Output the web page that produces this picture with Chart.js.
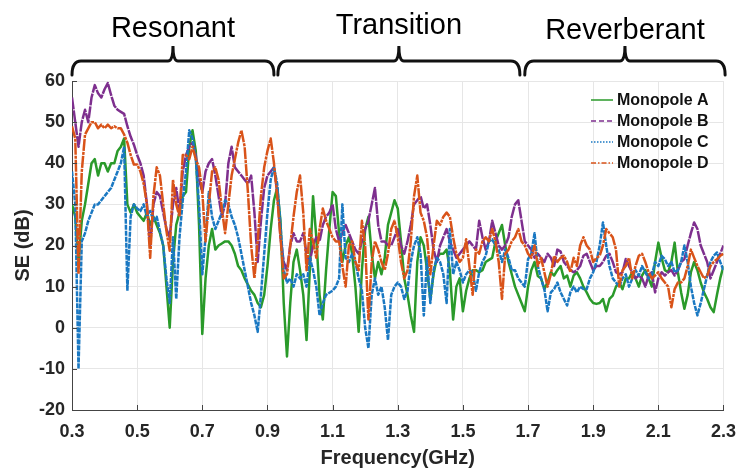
<!DOCTYPE html>
<html>
<head>
<meta charset="utf-8">
<script src="https://cdn.jsdelivr.net/npm/chart.js@4.4.1/dist/chart.umd.min.js"></script>
<style>
  html, body { margin: 0; padding: 0; background: #fff; }
  #wrap { width: 747px; height: 468px; position: relative; }
</style>
</head>
<body>
<div id="wrap"><canvas id="seChart"></canvas></div>
<script>
// frequency grid (GHz)
const freqGHz = [
  0.30, 0.31, 0.32, 0.33, 0.34, 0.35, 0.36, 0.37, 0.38, 0.39,
  0.40, 0.41, 0.42, 0.43, 0.44, 0.45, 0.46, 0.47, 0.48, 0.49,
  0.50, 0.51, 0.52, 0.53, 0.54, 0.55, 0.56, 0.57, 0.58, 0.59,
  0.60, 0.61, 0.62, 0.63, 0.64, 0.65, 0.66, 0.67, 0.68, 0.69,
  0.70, 0.71, 0.72, 0.73, 0.74, 0.75, 0.76, 0.77, 0.78, 0.79,
  0.80, 0.81, 0.82, 0.83, 0.84, 0.85, 0.86, 0.87, 0.88, 0.89,
  0.90, 0.91, 0.92, 0.93, 0.94, 0.95, 0.96, 0.97, 0.98, 0.99,
  1.00, 1.01, 1.02, 1.03, 1.04, 1.05, 1.06, 1.07, 1.08, 1.09,
  1.10, 1.11, 1.12, 1.13, 1.14, 1.15, 1.16, 1.17, 1.18, 1.19,
  1.20, 1.21, 1.22, 1.23, 1.24, 1.25, 1.26, 1.27, 1.28, 1.29,
  1.30, 1.31, 1.32, 1.33, 1.34, 1.35, 1.36, 1.37, 1.38, 1.39,
  1.40, 1.41, 1.42, 1.43, 1.44, 1.45, 1.46, 1.47, 1.48, 1.49,
  1.50, 1.51, 1.52, 1.53, 1.54, 1.55, 1.56, 1.57, 1.58, 1.59,
  1.60, 1.61, 1.62, 1.63, 1.64, 1.65, 1.66, 1.67, 1.68, 1.69,
  1.70, 1.71, 1.72, 1.73, 1.74, 1.75, 1.76, 1.77, 1.78, 1.79,
  1.80, 1.81, 1.82, 1.83, 1.84, 1.85, 1.86, 1.87, 1.88, 1.89,
  1.90, 1.91, 1.92, 1.93, 1.94, 1.95, 1.96, 1.97, 1.98, 1.99,
  2.00, 2.01, 2.02, 2.03, 2.04, 2.05, 2.06, 2.07, 2.08, 2.09,
  2.10, 2.11, 2.12, 2.13, 2.14, 2.15, 2.16, 2.17, 2.18, 2.19,
  2.20, 2.21, 2.22, 2.23, 2.24, 2.25, 2.26, 2.27, 2.28, 2.29, 2.30
];

// shielding effectiveness (dB)
const seMonopoleA = [
  30, 27, 16, 26, 30, 35, 40, 41, 37, 40,
  40, 38, 40, 40, 43, 44, 46, 30, 28, 30,
  28, 27, 26, 28, 25, 27, 25, 23, 20, 10,
  0, 16, 25, 28, 32, 33, 44, 48, 43, 25,
  -1.5, 12, 20, 24, 19, 20, 20.5, 21, 21, 20,
  18, 15, 14, 12, 10.5, 9, 8, 6, 5, 8,
  15, 24, 31, 34, 26, 6, -7, 6, 16, 19,
  14, 8, -3, 14, 32, 22, 8, 2, 14, 24,
  33, 32, 23, 16, 20, 22, 18, 10, -1, 14,
  24, 27, 18, 12, 16, 13, 17, 25, 28, 31,
  29, 21, 12, 8, 3, -1, 16, 22, 20, 14,
  7, 13, 17, 18, 18, 19, 14, 2, 10, 12,
  4, 9, 12, 14, 14, 13.5, 14, 16, 16.5, 17,
  21, 23, 25, 20, 16, 13, 10, 8, 6, 4,
  10, 14, 16, 12.6, 12, 9.4, 11, 13.5, 12.7, 14,
  15, 12, 12.7, 10, 12.7, 13.5, 12, 10, 8.6, 7,
  6, 5.8, 6, 7, 4, 7, 7.8, 10, 11, 9.4,
  12, 12, 13.5, 12, 10, 12.7, 14, 12, 10, 16,
  20.7, 17, 14, 13.5, 16, 20.7, 13.5, 8.6, 4.6, 8,
  13.5, 16, 14, 11, 8.6, 7, 5, 3.8, 8, 12, 15
];
const seMonopoleB = [
  56, 50, 44, 50, 53, 50, 56, 59, 57, 56,
  58, 59.5, 56.6, 54, 53, 52.5, 52, 49, 46.5, 44.5,
  42, 40, 37, 30, 20, 30, 33, 32, 28, 24,
  22, 30, 34, 28, 38, 42, 44, 45, 42, 36,
  33, 38, 40, 41, 37, 32, 27, 30, 40, 44,
  39, 38, 37, 36, 35, 37, 28, 16, 26, 34,
  37, 38, 39, 33, 22, 16, 14, 20, 23, 21,
  21, 23, 18, 16, 20, 22, 21, 25, 27, 28,
  30, 24, 21, 23, 25, 23, 21, 19, 18, 21,
  24, 26, 30, 34, 25, 21, 21, 20, 20, 22,
  24, 20, 18, 21, 25, 30, 31, 32, 29, 30,
  25, 19, 16, 20, 22, 24, 21, 19, 17, 18,
  19, 20, 21, 20, 19, 26, 22, 19, 21, 26,
  23, 20, 19, 20, 22, 27, 30, 31, 26, 21,
  20, 19, 17, 18, 17, 16, 18, 17, 15, 19,
  18.5, 16, 15, 14, 13.5, 14, 15, 17.5, 18, 16,
  14, 15, 15, 16, 17.5, 18, 16, 13.5, 13, 13.5,
  16.7, 15, 13.5, 12, 12.7, 12, 10, 12.7, 13.5, 8.6,
  12, 13.5, 12.7, 13.5, 14, 12.7, 14, 16, 16.7, 20,
  23, 25.6, 24, 20, 18, 16, 12, 14, 16, 18, 20
];
const seMonopoleC = [
  38, 30, -10, 21, 23, 26, 28, 30, 30, 31,
  32, 33, 34, 36, 38, 40, 44, 9, 27, 30,
  29, 28.4, 30, 27, 28.4, 26, 27, 23.5, 20, 12,
  6, 22, 7, 22, 31, 38, 48, 46, 41, 30,
  13, 22, 33, 27, 24, 26, 28, 31, 30, 27,
  25, 22, 18, 14, 10, 6, 3, -1, 8, 18,
  28, 36, 39, 35, 25, 14, 11, 12, 10, 13,
  12, 13, 10, 17, 14, 10, 3, 6, 8, 8.5,
  9, 10, 12, 30, 17, 16, 18, 16, 12, 9,
  0, -5, 8, 12, 8, 10, 5, -3, 8, 10,
  11, 10, 7, 9, 16, 20, 22, 18, 3, 17,
  6, 14, 17, 16, 13, 6, 24, 13, 16, 14,
  11, 13, 14, 13.5, 9, 13.5, 16, 17.5, 21, 21.5,
  20, 19, 16, 19, 17, 14, 14, 12, 11, 10,
  16.7, 18, 23, 15, 12, 9.4, 4, 8.6, 9.4, 11,
  8.6, 7, 5.4, 8.6, 10, 8.6, 10, 9.4, 9.4, 12,
  13.5, 16, 20, 25.6, 20, 15, 12, 11, 10, 12,
  13, 10, 12, 14, 12.7, 15, 13.5, 12, 12.7, 16,
  15, 17.5, 16.7, 15, 16, 13.5, 14, 16, 20, 16,
  10, 6, 3, 6, 9.4, 12.7, 16, 17.5, 18.3, 16, 14
];
const seMonopoleD = [
  49, 46, 13, 38, 47, 48.5, 50, 50, 48.5, 49.4,
  48.5, 49.4, 48.5, 49, 48.5, 48.5, 47, 45, 42, 39.7,
  39.7, 38, 35, 30, 17, 32, 39, 37, 30, 23.5,
  18.7, 36, 30, 27, 42, 42, 41, 44, 41, 39,
  33, 21, 30, 38, 39, 36, 29, 23, 30, 37,
  41, 45, 48, 44, 33, 20, 12, 21, 32, 39,
  43, 46, 40, 32, 22, 12, 13, 20, 27, 33,
  37, 28, 14, 24, 21, 17, 24, 29, 26, 24,
  22, 21, 21, 15, 10, 20, 21, 16, 14, 26,
  20, 2, 16, 21, 19, 16, 14, 18, 24, 26,
  22, 16, 12, 14, 21, 32, 37, 28, 26, 22,
  13, 20, 26, 25, 27, 28, 27, 22, 18, 16,
  17, 21.5, 15, 8, 19, 18, 21, 22, 21, 24,
  21, 16, 7, 18, 19, 21, 22, 24, 21, 20,
  18, 17, 20, 15, 17, 13.5, 10, 13, 17.5, 16,
  17, 17.5, 16, 13.5, 17, 15, 20, 22, 20, 19,
  16, 17, 17.5, 20, 24, 23, 22, 19, 10, 14,
  15, 17, 12, 15, 17.5, 18, 16, 13.5, 12, 12.7,
  13.5, 12, 11, 10, 5, 9.4, 11, 11, 12, 15,
  19, 17, 15, 13.5, 12, 12.7, 15, 16, 16.7, 17.5, 18
];

const seriesNames = ['Monopole A', 'Monopole B', 'Monopole C', 'Monopole D'];
const seriesValues = [seMonopoleA, seMonopoleB, seMonopoleC, seMonopoleD];
const seriesColors = ['#2a9a2a', '#7e2f8e', '#1a78c2', '#d95319'];
// dense measured traces read almost solid, so only faint gaps in the plot
const seriesDash = [[], [12, 1], [5, 1], [12, 1, 3, 1]];
const legendDash = [[], [5, 3], [1.5, 1.5], [5, 2, 1.5, 2]];

const xTickValues = [0.3, 0.5, 0.7, 0.9, 1.1, 1.3, 1.5, 1.7, 1.9, 2.1, 2.3];
const yTickValues = [-20, -10, 0, 10, 20, 30, 40, 50, 60];

// frequency bands marked above the plot
const regionNames = ['Resonant', 'Transition', 'Reverberant'];
const regionStart = [0.3, 0.932, 1.69];
const regionEnd = [0.92, 1.675, 2.305];

const tickFont = { family: 'Liberation Sans, Arial, sans-serif', size: 18, weight: 'bold' };
const titleFont = { family: 'Liberation Sans, Arial, sans-serif', size: 20, weight: 'bold' };

function drawBracket(ctx, x0, x1, yLine, yEnd, yTip) {
  const cx = (x0 + x1) / 2;
  const r = 9;
  ctx.beginPath();
  ctx.moveTo(x0, yEnd);
  ctx.quadraticCurveTo(x0, yLine, x0 + r, yLine);
  ctx.lineTo(cx - 5, yLine);
  ctx.quadraticCurveTo(cx, yLine, cx, yTip);
  ctx.quadraticCurveTo(cx, yLine, cx + 5, yLine);
  ctx.lineTo(x1 - r, yLine);
  ctx.quadraticCurveTo(x1, yLine, x1, yEnd);
  ctx.stroke();
}

const overlayPlugin = {
  id: 'overlay',
  afterDraw(chart) {
    const { ctx, chartArea, scales: { x, y } } = chart;
    ctx.save();

    // inward tick marks
    ctx.strokeStyle = '#444';
    ctx.lineWidth = 1;
    xTickValues.forEach(v => {
      const px = Math.round(x.getPixelForValue(v)) + 0.5;
      ctx.beginPath();
      ctx.moveTo(px, chartArea.bottom);
      ctx.lineTo(px, chartArea.bottom - 5);
      ctx.stroke();
    });
    yTickValues.forEach(v => {
      const py = Math.round(y.getPixelForValue(v)) + 0.5;
      ctx.beginPath();
      ctx.moveTo(chartArea.left, py);
      ctx.lineTo(chartArea.left + 5, py);
      ctx.stroke();
    });

    // region brackets
    ctx.strokeStyle = '#111';
    ctx.lineWidth = 3;
    ctx.lineCap = 'round';
    ctx.fillStyle = '#000';
    ctx.font = '29px "Liberation Sans", Arial, sans-serif';
    ctx.textAlign = 'center';
    ctx.textBaseline = 'middle';
    const labelY = [29, 26, 31];
    regionNames.forEach((name, i) => {
      const x0 = x.getPixelForValue(regionStart[i]);
      const x1 = x.getPixelForValue(regionEnd[i]);
      drawBracket(ctx, x0, x1, 61, 75, 46);
      ctx.fillText(name, (x0 + x1) / 2, labelY[i]);
    });

    // legend inside the top-right corner
    ctx.font = 'bold 16px "Liberation Sans", Arial, sans-serif';
    ctx.textAlign = 'left';
    ctx.lineCap = 'butt';
    ctx.lineWidth = 1.5;
    seriesNames.forEach((name, i) => {
      const ly = 100 + i * 21;
      ctx.strokeStyle = seriesColors[i];
      ctx.setLineDash(legendDash[i]);
      ctx.beginPath();
      ctx.moveTo(591, ly);
      ctx.lineTo(613, ly);
      ctx.stroke();
      ctx.setLineDash([]);
      ctx.fillStyle = '#111';
      ctx.fillText(name, 617, ly + 1);
    });
    ctx.restore();
  }
};

const ctx = document.getElementById('seChart').getContext('2d');
new Chart(ctx, {
  type: 'line',
  data: {
    datasets: seriesNames.map((name, i) => ({
      label: name,
      data: freqGHz.map((f, k) => ({ x: f, y: seriesValues[i][k] })),
      borderColor: seriesColors[i],
      borderWidth: 2.5,
      borderDash: seriesDash[i],
      borderJoinStyle: 'round',
      pointRadius: 0,
      tension: 0,
      fill: false,
      order: 4 - i
    }))
  },
  options: {
    responsive: true,
    maintainAspectRatio: false,
    animation: false,
    layout: { padding: { top: 81, right: 20, left: 0, bottom: 0 } },
    plugins: {
      legend: { display: false },
      tooltip: { enabled: false }
    },
    scales: {
      x: {
        type: 'linear',
        min: 0.3,
        max: 2.3,
        afterBuildTicks: s => { s.ticks = xTickValues.map(v => ({ value: v })); },
        afterFit: s => { s.height = 58; },
        grid: { color: '#e6e6e6', drawTicks: false },
        border: { color: '#444', width: 1 },
        ticks: {
          padding: 11,
          color: '#262626',
          font: tickFont,
          maxRotation: 0,
          callback: v => Number(v).toFixed(1)
        },
        title: {
          display: true,
          text: 'Frequency(GHz)',
          color: '#262626',
          font: titleFont,
          padding: { top: 0, bottom: -2 }
        }
      },
      y: {
        min: -20,
        max: 60,
        afterBuildTicks: s => { s.ticks = yTickValues.map(v => ({ value: v })); },
        afterFit: s => { s.width = 72; },
        grid: { color: '#e6e6e6', drawTicks: false },
        border: { color: '#444', width: 1 },
        ticks: {
          padding: 7,
          color: '#262626',
          font: tickFont,
          callback: v => String(v)
        },
        title: {
          display: true,
          text: 'SE (dB)',
          color: '#262626',
          font: titleFont,
          padding: { top: 11, bottom: 0 }
        }
      }
    }
  },
  plugins: [overlayPlugin]
});
</script>
</body>
</html>
